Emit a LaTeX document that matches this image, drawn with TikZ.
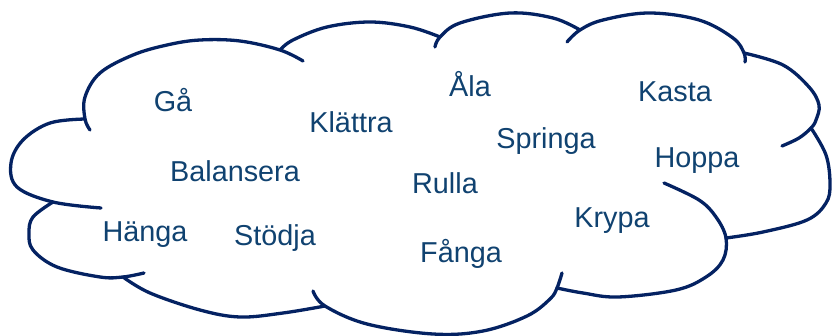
\documentclass[tikz,border=0pt]{standalone}
\usepackage{fontspec}
\setmainfont{Liberation Sans}
\definecolor{cloudblue}{RGB}{4,34,98}
\definecolor{wordblue}{RGB}{16,66,112}
\tikzset{
  cloudline/.style={draw=cloudblue, line width=3.3pt, line cap=round, smooth, tension=0.6},
  word/.style={text=wordblue, inner sep=0pt, anchor=base, font=\fontsize{28.8}{30}\selectfont}
}

\begin{document}
\begin{tikzpicture}[x=1pt,y=-1pt]
  \useasboundingbox (0,0) rectangle (832,336);

  % cloud lobes, each with its short inner stub
  \draw[cloudline] plot coordinates {(90,130) (85,119) (85,97) (100,73) (133,55) (167,45) (200,40) (240,41) (280,50) (303,61)};
  \draw[cloudline] plot coordinates {(280,50) (293,40) (327,27) (370,22) (410,27) (440,37)};
  \draw[cloudline] plot coordinates {(435,47) (440,37) (460,23) (510,13) (553,18) (580,30)};
  \draw[cloudline] plot coordinates {(567,42) (580,30) (603,20) (649,13) (699,20) (733,38) (744,53) (745,62)};
  \draw[cloudline] plot coordinates {(744,53) (783,65) (809,87) (819,105) (816,120) (811,128) (799,138) (782,146)};
  \draw[cloudline] plot coordinates {(811,128) (826,155) (830,184) (826,203) (807,220) (763,232) (726,238)};
  \draw[cloudline] plot coordinates {(664,183) (699,200) (716,217) (726,238) (723,260) (706,277) (676,290) (618,297) (583,293) (557,288)};
  \draw[cloudline] plot coordinates {(313,291) (325,306) (367,324) (433,334) (483,331) (527,316) (550,299) (557,288) (562,273)};
  \draw[cloudline] plot coordinates {(123,277) (150,293) (200,310) (240,317) (283,313) (325,306)};
  \draw[cloudline] plot coordinates {(53,202) (33,217) (29,233) (33,250) (57,267) (100,277) (123,277) (144,273)};
  \draw[cloudline] plot coordinates {(85,119) (50,123) (23,140) (11,163) (17,187) (53,202) (101,208)};

  % words
  \foreach \name/\px/\py/\txt in {ga/173/112/Gå, klattra/351/133/Klättra, balansera/235/182/Balansera,
      hanga/145/242/Hänga, stodja/275/246/Stödja, ala/470/97/Åla, springa/546/149/Springa,
      kasta/675/102/Kasta, hoppa/697/168/Hoppa, rulla/445/194/Rulla, krypa/612/228/Krypa,
      fanga/461/263/Fånga}
    \node[word] (\name) at (\px,\py) {\txt};
\end{tikzpicture}
\end{document}
